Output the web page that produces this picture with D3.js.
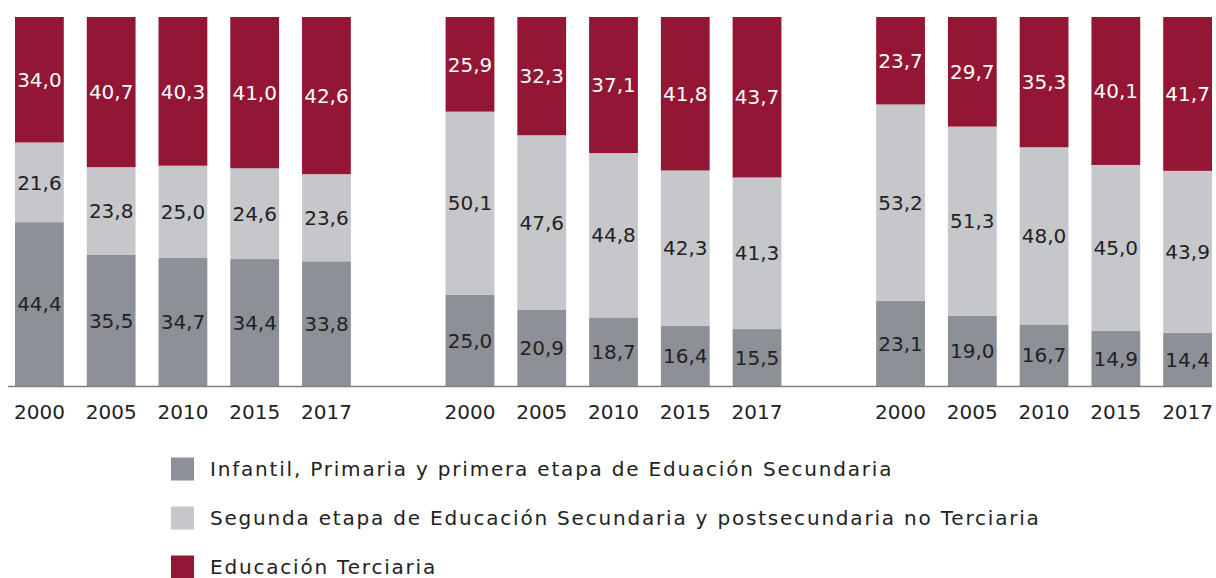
<!DOCTYPE html>
<html>
<head>
<meta charset="utf-8">
<script src="https://cdn.jsdelivr.net/npm/d3@7"></script>
<style>
  body { margin: 0; background: #fff; }
  svg text { font-family: "DejaVu Sans", Lato, sans-serif; }
</style>
</head>
<body>
<svg id="chart" width="1216" height="578"></svg>
<script>
// years on each block, three blocks side by side
const years = ["2000", "2005", "2010", "2015", "2017"];
const groups = ["g1", "g2", "g3"];

const seriesNames = [
  "Infantil, Primaria y primera etapa de Eduación Secundaria",
  "Segunda etapa de Educación Secundaria y postsecundaria no Terciaria",
  "Educación Terciaria"
];
const colors = ["#8e9098", "#c6c7cb", "#931734"];
const labelColors = ["#222", "#222", "#fff"];

// values per group, in order of years
const infantil = [
  [44.4, 35.5, 34.7, 34.4, 33.8],
  [25.0, 20.9, 18.7, 16.4, 15.5],
  [23.1, 19.0, 16.7, 14.9, 14.4]
];
const segunda = [
  [21.6, 23.8, 25.0, 24.6, 23.6],
  [50.1, 47.6, 44.8, 42.3, 41.3],
  [53.2, 51.3, 48.0, 45.0, 43.9]
];
const terciaria = [
  [34.0, 40.7, 40.3, 41.0, 42.6],
  [25.9, 32.3, 37.1, 41.8, 43.7],
  [23.7, 29.7, 35.3, 40.1, 41.7]
];

let svg = d3.select("#chart");

const fmt = v => v.toFixed(1).replace(".", ",");

let x0 = d3.scaleBand().domain(groups).range([15, 1212]).paddingInner(0.22).paddingOuter(0);
let x1 = d3.scaleBand().domain(years).range([0, x0.bandwidth()]).paddingInner(0.32).paddingOuter(0);
let y = d3.scaleLinear().domain([0, 1]).range([386, 17]);

const keys = ["a", "b", "c"];
const fs = 20;

groups.forEach(function(g, gi) {
    let rows = years.map(function(yr, i) {
        return { year: yr, a: infantil[gi][i], b: segunda[gi][i], c: terciaria[gi][i] };
    });
    // 100% stacked
    let stacked = d3.stack().keys(keys).offset(d3.stackOffsetExpand)(rows);

    let gg = svg.append("g").attr("transform", "translate(" + x0(g) + ",0)");

    stacked.forEach(function(layer, li) {
        gg.selectAll(".bar" + li)
          .data(layer)
          .join("rect")
          .attr("x", d => x1(d.data.year))
          .attr("y", d => y(d[1]))
          .attr("width", x1.bandwidth())
          .attr("height", d => y(d[0]) - y(d[1]))
          .attr("fill", colors[li]);

        gg.selectAll(".lab" + li)
          .data(layer)
          .join("text")
          .attr("x", d => x1(d.data.year) + x1.bandwidth() / 2)
          .attr("y", d => (y(d[0]) + y(d[1])) / 2)
          .attr("dy", "0.36em")
          .attr("text-anchor", "middle")
          .attr("font-size", fs)
          .attr("fill", labelColors[li])
          .text(d => fmt(d.data[keys[li]]));
    });

    // year labels
    gg.selectAll(".yr")
      .data(years)
      .join("text")
      .attr("x", d => x1(d) + x1.bandwidth() / 2)
      .attr("y", 419)
      .attr("text-anchor", "middle")
      .attr("font-size", fs)
      .attr("fill", "#222")
      .text(d => d);
});

// baseline
svg.append("line")
    .attr("x1", 8).attr("x2", 1212)
    .attr("y1", y(0) + 0.5).attr("y2", y(0) + 0.5)
    .attr("stroke", "#7f7f7f")
    .attr("stroke-width", 1.5);

// legend
let legend = svg.append("g");
seriesNames.forEach(function(name, i) {
    let cy = 469 + i * 49;
    legend.append("rect")
        .attr("x", 171).attr("y", cy - 11.5)
        .attr("width", 23).attr("height", 23)
        .attr("fill", colors[i]);
    legend.append("text")
        .attr("x", 210).attr("y", cy)
        .attr("dy", "0.36em")
        .attr("font-size", fs)
        .attr("letter-spacing", 1.8)
        .attr("fill", "#222")
        .text(name);
});
</script>
</body>
</html>
